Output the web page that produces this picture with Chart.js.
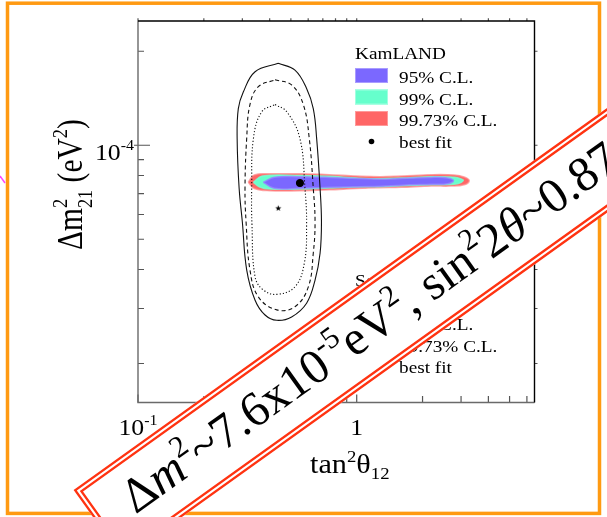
<!DOCTYPE html>
<html>
<head>
<meta charset="utf-8">
<script src="https://cdn.jsdelivr.net/npm/chart.js@4/dist/chart.umd.min.js"></script>
<style>
  html, body { margin: 0; padding: 0; background: #fff; }
  canvas { display: block; }
</style>
</head>
<body>
<canvas id="chart" width="607" height="517"></canvas>
<script>
// axis ranges (tan^2 theta12, delta m^2_21 in eV^2)
const xRange = [0.1, 6.5];
const yRange = [1.5e-5, 2.5e-4];
const xMajor = [0.1, 1];
const xMinor = [0.2, 0.3, 0.4, 0.5, 0.6, 0.7, 0.8, 0.9, 2, 3, 4, 5, 6];
const yMajor = [1e-4];
const yMinor = [2e-5, 3e-5, 4e-5, 5e-5, 6e-5, 7e-5, 8e-5, 9e-5, 2e-4];

// solar contours (solid 99.73%, dashed 99%, dotted 95%)
const solar9973 = [
  [0.438, 1.83e-4], [0.522, 1.74e-4], [0.590, 1.52e-4], [0.633, 1.31e-4], [0.656, 1.05e-4],
  [0.680, 7.28e-5], [0.690, 5.68e-5], [0.680, 4.51e-5], [0.645, 3.70e-5], [0.590, 3.12e-5],
  [0.504, 2.82e-5], [0.431, 2.75e-5], [0.381, 2.86e-5], [0.343, 3.19e-5], [0.314, 3.99e-5],
  [0.300, 5.68e-5], [0.290, 7.28e-5], [0.284, 1.05e-4], [0.2875, 1.31e-4], [0.303, 1.48e-4],
  [0.343, 1.72e-4], [0.438, 1.83e-4]
];
const solar99 = [
  [0.423, 1.62e-4], [0.504, 1.56e-4], [0.570, 1.35e-4], [0.607, 1.05e-4], [0.633, 7.28e-5],
  [0.645, 5.68e-5], [0.633, 4.51e-5], [0.601, 3.52e-5], [0.522, 3.04e-5], [0.431, 2.97e-5],
  [0.355, 3.27e-5], [0.325, 3.99e-5], [0.312, 5.68e-5], [0.3085, 7.28e-5], [0.314, 1.05e-4],
  [0.325, 1.35e-4], [0.355, 1.54e-4], [0.423, 1.62e-4]
];
const solar95 = [
  [0.423, 1.35e-4], [0.479, 1.28e-4], [0.550, 1.05e-4], [0.580, 7.28e-5], [0.590, 5.56e-5],
  [0.576, 4.19e-5], [0.522, 3.52e-5], [0.431, 3.33e-5], [0.374, 3.44e-5], [0.343, 3.79e-5],
  [0.332, 5.56e-5], [0.331, 7.28e-5], [0.337, 1.05e-4], [0.368, 1.28e-4], [0.423, 1.35e-4]
];
const solarBest = [[0.438, 6.28e-5]];

// KamLAND allowed regions
const kam9973 = [
  [0.319, 7.61e-5], [0.34, 8.03e-5], [0.40, 8.10e-5], [0.55, 8.10e-5], [0.75, 8.05e-5],
  [1.0, 7.97e-5], [1.28, 7.93e-5], [1.6, 7.97e-5], [2.2, 8.05e-5], [2.8, 8.03e-5],
  [3.1, 7.91e-5], [3.27, 7.70e-5], [3.1, 7.47e-5], [2.7, 7.40e-5], [2.2, 7.40e-5],
  [1.6, 7.33e-5], [1.28, 7.31e-5], [1.0, 7.27e-5], [0.75, 7.20e-5], [0.55, 7.15e-5],
  [0.40, 7.15e-5], [0.34, 7.27e-5], [0.319, 7.61e-5]
];
const kam99 = [
  [0.337, 7.61e-5], [0.37, 7.97e-5], [0.55, 8.00e-5], [0.75, 7.95e-5], [1.0, 7.85e-5],
  [1.28, 7.81e-5], [1.6, 7.85e-5], [2.2, 7.93e-5], [2.8, 7.90e-5], [3.0, 7.80e-5],
  [3.07, 7.70e-5], [2.9, 7.53e-5], [2.2, 7.47e-5], [1.6, 7.42e-5], [1.28, 7.37e-5],
  [1.0, 7.35e-5], [0.75, 7.30e-5], [0.55, 7.24e-5], [0.40, 7.24e-5], [0.36, 7.35e-5],
  [0.337, 7.61e-5]
];
const kam95 = [
  [0.374, 7.61e-5], [0.42, 7.90e-5], [0.55, 7.93e-5], [0.75, 7.89e-5], [1.0, 7.82e-5],
  [1.28, 7.78e-5], [1.6, 7.82e-5], [2.2, 7.89e-5], [2.6, 7.86e-5], [2.77, 7.70e-5],
  [2.6, 7.53e-5], [2.2, 7.50e-5], [1.6, 7.45e-5], [1.28, 7.39e-5], [1.0, 7.37e-5],
  [0.75, 7.33e-5], [0.55, 7.28e-5], [0.42, 7.28e-5], [0.374, 7.61e-5]
];
const kamBest = [[0.55, 7.57e-5]];

const kamTitle = 'KamLAND';
const solarTitle = 'Solar';
const clLabels = ['95% C.L.', '99% C.L.', '99.73% C.L.', 'best fit'];

const SERIF = '"Liberation Serif", "Times New Roman", serif';
const pts = arr => arr.map(([x, y]) => ({ x, y }));

// small filled star for the solar best fit
function makeStar(r) {
  const s = Math.ceil(r * 2 + 2);
  const cv = document.createElement('canvas');
  cv.width = cv.height = s;
  const g = cv.getContext('2d');
  g.fillStyle = '#000';
  g.beginPath();
  for (let i = 0; i < 10; i++) {
    const a = -Math.PI / 2 + i * Math.PI / 5;
    const rr = i % 2 ? r * 0.42 : r;
    g.lineTo(s / 2 + rr * Math.cos(a), s / 2 + rr * Math.sin(a));
  }
  g.closePath();
  g.fill();
  return cv;
}
const star = makeStar(3.2);

// text with super/subscripts
function drawRich(c, runs, x, y, size, draw) {
  let cx = x;
  for (const r of runs) {
    const fs = size * (r.k || 1);
    c.font = (r.it ? 'italic ' : '') + fs + 'px ' + SERIF;
    const w1 = c.measureText(r.t).width;
    if (r.sub !== undefined) {
      const w2 = c.measureText(r.sub).width;
      if (draw) {
        c.fillText(r.t, cx, y + (r.dy || 0) * size);
        c.fillText(r.sub, cx, y + (r.dy2 || 0) * size);
      }
      cx += Math.max(w1, w2);
    } else {
      if (draw) c.fillText(r.t, cx, y + (r.dy || 0) * size);
      cx += w1;
    }
  }
  return cx - x;
}
function putText(c, runs, x, y, size, o) {
  o = o || {};
  c.save();
  c.translate(x, y);
  if (o.rot) c.rotate(o.rot);
  c.scale(o.sx || 1, o.sy || 1);
  c.fillStyle = o.color || '#000';
  c.textBaseline = 'alphabetic';
  c.textAlign = 'left';
  const w = drawRich(c, runs, 0, 0, size, false);
  const off = o.align === 'center' ? -w / 2 : o.align === 'right' ? -w : 0;
  drawRich(c, runs, off, 0, size, true);
  c.restore();
}
const SUP = { k: 0.62, dy: -0.42 };
const SUB = { k: 0.62, dy: 0.22 };

const frame = {
  id: 'frame',
  beforeDraw(chart) {
    const c = chart.ctx;
    c.save();
    c.fillStyle = '#fff';
    c.fillRect(0, 0, chart.width, chart.height);
    c.strokeStyle = '#ff9a12';
    c.lineWidth = 3.5;
    c.strokeRect(7.5, 3.2, 592, 510.2);
    c.strokeStyle = '#ff44ff';
    c.lineWidth = 1.5;
    c.beginPath(); c.moveTo(0, 176); c.lineTo(5, 183); c.stroke();
    c.restore();
  },
  afterDatasetsDraw(chart) {
    const c = chart.ctx, a = chart.chartArea, xs = chart.scales.x, ys = chart.scales.y;
    c.save();
    c.lineWidth = 1.2;
    // ticks
    c.strokeStyle = '#555';
    c.beginPath();
    for (const v of yMinor.concat(yMajor)) {
      const py = ys.getPixelForValue(v);
      const major = yMajor.includes(v);
      c.moveTo(a.left - (major ? 4 : 0), py); c.lineTo(a.left + (major ? 12 : 6), py);
      c.moveTo(a.right, py); c.lineTo(a.right + 3, py);
    }
    for (const v of xMinor.concat(xMajor)) {
      const px = xs.getPixelForValue(v);
      const major = xMajor.includes(v);
      c.moveTo(px, a.bottom); c.lineTo(px, a.bottom - (major ? 8 : 6.5));
      c.moveTo(px, a.top); c.lineTo(px, a.top - 2.8);
    }
    c.stroke();
    // box
    c.lineWidth = 1.4;
    c.strokeStyle = '#6a6a6a';
    c.beginPath();
    c.moveTo(a.left, a.top); c.lineTo(a.left, a.bottom); c.lineTo(a.right, a.bottom);
    c.stroke();
    c.strokeStyle = '#000';
    c.beginPath();
    c.moveTo(a.left, a.top); c.lineTo(a.right, a.top); c.lineTo(a.right, a.bottom);
    c.stroke();

    // tick labels
    putText(c, [{ t: '10' }, { t: '-1', ...SUP }], xs.getPixelForValue(0.1), 435, 23, { sx: 1.12, align: 'center' });
    putText(c, [{ t: '1' }], xs.getPixelForValue(1), 435, 23, { sx: 1.12, align: 'center' });
    putText(c, [{ t: '10' }, { t: '-4', ...SUP }], a.left - 4, ys.getPixelForValue(1e-4) + 14.5, 23, { sx: 1.12, align: 'right' });

    // axis titles
    putText(c, [{ t: 'tan' }, { t: '2', ...SUP }, { t: 'θ' }, { t: '12', ...SUB }], 310, 473, 27, { sx: 1.12 });
    putText(c, [{ t: 'Δm' }, { t: '2', sub: '21', k: 0.62, dy: -0.42, dy2: 0.28 }, { t: ' (eV' }, { t: '2', ...SUP }, { t: ')' }],
      82, 250, 29.5, { rot: -Math.PI / 2, sy: 1.18 });

    // KamLAND legend
    const lx = 355, tx = 399, sw = 33;
    const kamRows = [83, 104.5, 126, 148];
    const fills = ['#7b68ff', '#66ffcc', '#ff6666'];
    const edges = ['#a99cff', '#a0ffe0', '#ff9a9a'];
    putText(c, [{ t: kamTitle }], lx, 59, 17.5, { sx: 1.1 });
    for (let i = 0; i < 3; i++) {
      c.fillStyle = fills[i];
      c.fillRect(lx, kamRows[i] - 15, sw, 15);
      c.strokeStyle = edges[i]; c.lineWidth = 1;
      c.strokeRect(lx + 0.5, kamRows[i] - 14.5, sw - 1, 14);
    }
    c.fillStyle = '#000';
    c.beginPath(); c.arc(lx + sw / 2, kamRows[3] - 6.5, 2.8, 0, Math.PI * 2); c.fill();
    clLabels.forEach((t, i) => putText(c, [{ t }], tx, kamRows[i], 17.5, { sx: 1.1 }));

    // solar legend (mostly hidden under the banner)
    const solRows = [308.5, 330, 351.5, 373];
    const dashes = [[1.5, 2], [4, 3], []];
    putText(c, [{ t: solarTitle }], lx, 286, 17.5, { sx: 1.1 });
    c.strokeStyle = '#000'; c.lineWidth = 1.1;
    for (let i = 0; i < 3; i++) {
      c.setLineDash(dashes[i]);
      c.beginPath(); c.moveTo(lx, solRows[i] - 7); c.lineTo(lx + sw, solRows[i] - 7); c.stroke();
    }
    c.setLineDash([]);
    c.drawImage(star, lx + sw / 2 - star.width / 2, solRows[3] - 6.5 - star.height / 2);
    clLabels.forEach((t, i) => putText(c, [{ t }], tx, solRows[i], 17.5, { sx: 1.1 }));
    c.restore();
  },
  afterDraw(chart) {
    // slanted banner with the summary values
    const c = chart.ctx;
    const len = 900, h = 85;
    c.save();
    c.translate(73.6, 490);
    c.rotate(-35.6 * Math.PI / 180);
    c.fillStyle = '#fff';
    c.fillRect(0, 0, len, h);
    c.strokeStyle = '#ff3311';
    c.lineWidth = 2.3;
    c.strokeRect(1.15, 1.15, len, h - 2.3);
    c.strokeRect(5.6, 5.6, len, h - 11.2);
    putText(c, [
      { t: 'Δ' }, { t: 'm', it: true }, { t: '2', ...SUP }, { t: '~7.6x10' }, { t: '-5', ...SUP },
      { t: 'eV' }, { t: '2', ...SUP }, { t: ', sin' }, { t: '2', ...SUP }, { t: '2' },
      { t: 'θ', it: true }, { t: '~0.87' }
    ], 36, 56, 49, {});
    c.restore();
  }
};

const band = (data, fill, edge) => ({
  data: pts(data), showLine: true, fill: 'shape', tension: 0.4,
  backgroundColor: fill, borderColor: edge, borderWidth: 1.5, pointRadius: 0
});
const contour = (data, dash) => ({
  data: pts(data), showLine: true, fill: false, tension: 0.4,
  borderColor: '#111', borderWidth: 1.1, borderDash: dash, pointRadius: 0
});

// lower index is drawn on top
new Chart(document.getElementById('chart').getContext('2d'), {
  type: 'scatter',
  data: {
    datasets: [
      { data: pts(kamBest), pointRadius: 3.6, backgroundColor: '#000', borderColor: '#000', showLine: false },
      { data: pts(solarBest), pointStyle: star, pointRadius: 4, showLine: false },
      contour(solar95, [1.2, 2]),
      contour(solar99, [4, 3]),
      contour(solar9973, []),
      band(kam95, '#7b68ff', 'rgba(150,135,255,0.8)'),
      band(kam99, '#66ffcc', 'rgba(120,255,210,0.8)'),
      band(kam9973, '#ff6666', 'rgba(255,140,140,0.7)')
    ]
  },
  options: {
    responsive: false,
    animation: false,
    devicePixelRatio: 1,
    layout: { padding: { left: 138, top: 21, right: 72.5, bottom: 114.5 } },
    scales: {
      x: { type: 'logarithmic', min: xRange[0], max: xRange[1], display: false },
      y: { type: 'logarithmic', min: yRange[0], max: yRange[1], display: false }
    },
    plugins: { legend: { display: false }, tooltip: { enabled: false } }
  },
  plugins: [frame]
});
</script>
</body>
</html>
